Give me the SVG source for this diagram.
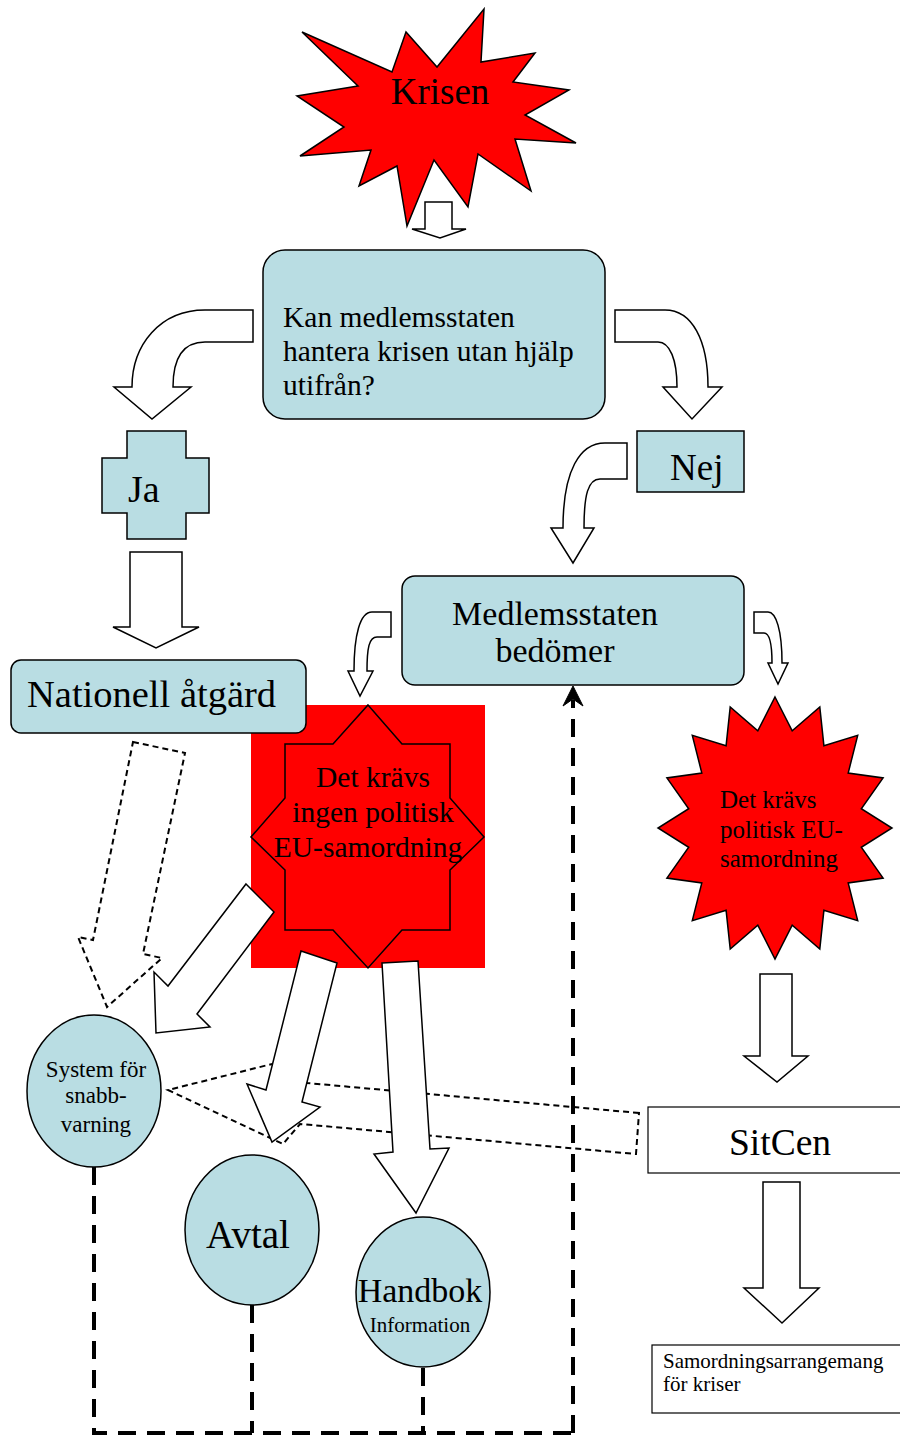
<svg xmlns="http://www.w3.org/2000/svg" width="900" height="1436" viewBox="0 0 900 1436">
<style>
  text { font-family: "Liberation Serif", "Times New Roman", serif; fill: #000; }
  .blue { fill: #B9DDE3; stroke: #000; stroke-width: 1.5; }
  .red { fill: #FF0000; stroke: #000; stroke-width: 1.5; }
  .blk { fill: #FFFFFF; stroke: #000; stroke-width: 1.5; stroke-linejoin: miter; }
  .dsh { fill: none; stroke: #000; stroke-width: 2; stroke-dasharray: 6 4; }
  .thick { fill: none; stroke: #000; stroke-width: 4; stroke-dasharray: 18 11; }
  .box { fill: #FFFFFF; stroke: #000; stroke-width: 1.2; }
</style>
<rect width="900" height="1436" fill="#FFFFFF"/>

<g id="krisen">
  <polygon class="red" points="302,32 392,72 406,32 437,67 484,9 481,62 535,53 513,82 569,90 525,115 576,143 515,139 531,191 478,154 468,207 434,160 407,226 397,166 359,186 371,150 300,156 344,127 297,96 358,86"/>
  <text x="440" y="104" font-size="37" text-anchor="middle">Krisen</text>
</g>

<g id="fraga">
  <rect class="blue" x="263" y="250" width="342" height="169" rx="22"/>
  <text x="283" y="327" font-size="29.5">Kan medlemsstaten</text>
  <text x="283" y="361" font-size="29.5">hantera krisen utan hjälp</text>
  <text x="283" y="395" font-size="29.5">utifrån?</text>
</g>

<g id="ja">
  <polygon class="blue" points="127,431 186,431 186,458 209,458 209,513 186,513 186,539 127,539 127,513 102,513 102,458 127,458"/>
  <text x="128" y="502" font-size="38">Ja</text>
</g>

<g id="nej">
  <rect class="blue" x="637" y="431" width="107" height="61"/>
  <text x="670" y="480" font-size="37">Nej</text>
</g>

<g id="medlemsstaten">
  <rect class="blue" x="402" y="576" width="342" height="109" rx="13"/>
  <text x="555" y="625" font-size="34" text-anchor="middle">Medlemsstaten</text>
  <text x="555" y="662" font-size="34" text-anchor="middle">bedömer</text>
</g>

<g id="ingen-samordning">
  <rect x="251" y="705" width="234" height="263" fill="#FF0000"/>
  <polygon class="red" points="368,705 402,744 450,744 450,798 484,837 450,870 450,930 402,930 368,968 333,930 285,930 285,870 251,837 285,798 285,744 333,744"/>
  <text x="373" y="787" font-size="29.5" text-anchor="middle">Det krävs</text>
  <text x="373" y="822" font-size="29.5" text-anchor="middle">ingen politisk</text>
  <text x="368" y="857" font-size="29.5" text-anchor="middle">EU-samordning</text>
</g>

<g id="nationell">
  <rect class="blue" x="11" y="660" width="295" height="73" rx="10"/>
  <text x="27" y="707" font-size="38.5">Nationell åtgärd</text>
</g>

<g id="politisk-samordning">
  <polygon class="red" points="775,697 792.2,730.9 819.8,707 823.9,745.7 857.7,735.4 848.2,773 883.1,777.9 861.3,808.7 892,828 861.3,847.3 883.1,878.1 848.2,883 857.7,920.6 823.9,910.3 819.8,949 792.2,925.1 775,959 757.8,925.1 730.2,949 726.1,910.3 692.3,920.6 701.8,883 666.9,878.1 688.7,847.3 658,828 688.7,808.7 666.9,777.9 701.8,773 692.3,735.4 726.1,745.7 730.2,707 757.8,730.9"/>
  <text x="720" y="808" font-size="25">Det krävs</text>
  <text x="720" y="838" font-size="25">politisk EU-</text>
  <text x="720" y="867" font-size="25">samordning</text>
</g>

<g id="sitcen">
  <rect class="box" x="648" y="1107" width="260" height="66"/>
  <text x="780" y="1155" font-size="37.5" text-anchor="middle">SitCen</text>
</g>

<g id="samordningsarrangemang">
  <rect class="box" x="652" y="1345" width="256" height="68"/>
  <text x="663" y="1368" font-size="21">Samordningsarrangemang</text>
  <text x="663" y="1391" font-size="21">för kriser</text>
</g>

<g id="system">
  <ellipse class="blue" cx="94" cy="1091" rx="67" ry="76"/>
  <text x="96" y="1077" font-size="23" text-anchor="middle">System för</text>
  <text x="96" y="1103" font-size="23" text-anchor="middle">snabb-</text>
  <text x="96" y="1132" font-size="23" text-anchor="middle">varning</text>
</g>

<g id="avtal">
  <ellipse class="blue" cx="252" cy="1230" rx="67" ry="75"/>
  <text x="248" y="1248" font-size="39" text-anchor="middle">Avtal</text>
</g>

<g id="handbok">
  <ellipse class="blue" cx="423" cy="1292" rx="67" ry="75"/>
  <text x="420" y="1302" font-size="34" text-anchor="middle">Handbok</text>
  <text x="420" y="1332" font-size="21" text-anchor="middle">Information</text>
</g>

<g id="connectors">
  <polygon class="blk" points="425,202 452,202 452,229 466,229 440,238 412,229 425,229"/>
  <path class="blk" d="M253,310 H205 C160,310 132,345 132,387 H114 L152,419 L191,387 H173 C173,358 183,342 205,342 H253 Z"/>
  <path class="blk" d="M615,310 H665 C692,310 708,340 708,387 H722 L692,419 L663,387 H677 C677,360 670,342 658,342 H615 Z"/>
  <path class="blk" d="M627,443 H605 C580,443 563,470 563,528 H551 L573,563 L594,528 H584 C584,495 588,479 600,479 H627 Z"/>
  <polygon class="blk" points="130,552 182,552 182,627 199,627 156,648 113,627 130,627"/>
  <path class="blk" d="M391,612 H372 C360,612 354,635 354,671 H348 L360,696 L373,671 H367 C367,648 369,637 377,637 H391 Z"/>
  <path class="blk" d="M754,612 H768 C776,612 782,630 782,663 H788 L778,684 L768,663 H772 C772,645 770,633 764,633 H754 Z"/>
  <polygon class="blk" points="760,974 792,974 792,1056 808,1056 777,1082 744,1056 760,1056"/>
  <polygon class="blk" points="763,1182 800,1182 800,1288 819,1288 782,1323 744,1288 763,1288"/>
  <polygon class="dsh" points="133,742 185,753 143,954 162,958 107,1007 78,937 93,940"/>
  <polygon class="dsh" points="639,1113 307,1083 272,1064 168,1090 283,1144 300,1124 636,1154"/>
  <polygon class="blk" points="246,884 274,912 197,1014 210,1027 156,1033 154,972 168,986"/>
  <polygon class="blk" points="301,951 337,963 302,1102 320,1107 272,1142 247,1084 266,1090"/>
  <polygon class="blk" points="382,963 418,961 430,1149 449,1148 416,1213 374,1154 393,1152"/>
  <path class="thick" d="M94,1167 V1433 H573"/>
  <path class="thick" d="M252,1305 V1433"/>
  <path class="thick" d="M423,1368 V1433"/>
  <path class="thick" d="M573,1433 V700"/>
  <path d="M563,706 L573,686 L583,706 L573,699 Z" fill="#000" stroke="#000" stroke-width="1"/>
</g>
</svg>
